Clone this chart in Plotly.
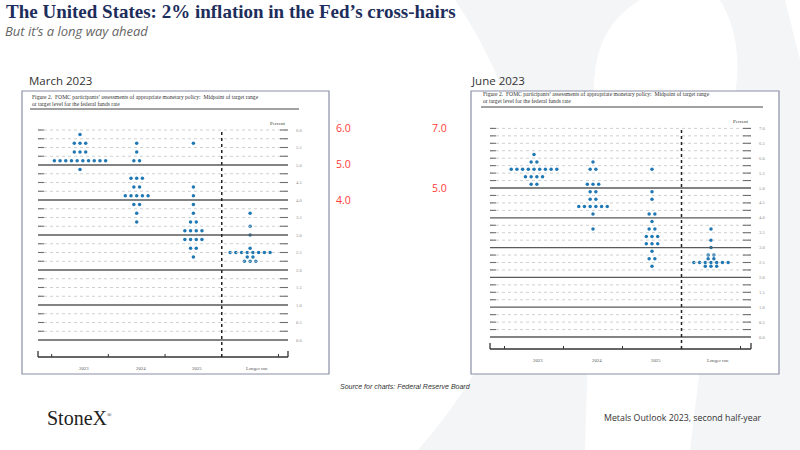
import plotly.graph_objects as go

# ---- data: FOMC dot plots (rate midpoint -> number of participants) ----
columns = ["2023", "2024", "2025", "Longer run"]

# March 2023 projections
mar_2023_levels = [5.875, 5.625, 5.375, 5.125, 4.875]
mar_2023_counts = [1, 3, 3, 10, 1]
mar_2024_levels = [5.625, 5.375, 5.125, 4.625, 4.375, 4.125, 3.875, 3.625, 3.375]
mar_2024_counts = [1, 1, 2, 3, 2, 5, 2, 1, 1]
mar_2025_levels = [5.625, 4.375, 4.125, 3.875, 3.625, 3.375, 3.125, 2.875, 2.625, 2.375]
mar_2025_counts = [1, 1, 1, 1, 1, 2, 4, 4, 2, 1]
mar_lr_levels = [3.625, 3.25, 3.0, 2.625, 2.5, 2.375, 2.25]
mar_lr_counts = [1, 1, 1, 1, 8, 2, 3]

# June 2023 projections
jun_2023_levels = [6.125, 5.875, 5.625, 5.375, 5.125]
jun_2023_counts = [1, 2, 9, 4, 2]
jun_2024_levels = [5.875, 5.625, 5.125, 4.875, 4.625, 4.375, 4.125, 3.625]
jun_2024_counts = [1, 2, 3, 2, 2, 6, 1, 1]
jun_2025_levels = [5.625, 4.875, 4.625, 4.125, 3.875, 3.625, 3.375, 3.125, 2.875, 2.625, 2.375]
jun_2025_counts = [1, 1, 1, 2, 1, 2, 3, 3, 1, 2, 1]
jun_lr_levels = [3.625, 3.25, 3.0, 2.75, 2.625, 2.5, 2.375]
jun_lr_counts = [1, 1, 1, 2, 2, 7, 3]

# red slide notes
mar_notes = ["6.0", "5.0", "4.0"]
jun_notes = ["7.0", "5.0"]

W, H = 800, 450
NAVY = "#1d2d5c"
DOT = "#1f78b4"
SERIF = "Liberation Serif"
SANS = "Open Sans"


def px(x):
    return x / W


def py(y):
    return 1 - y / H


# panel geometry in pixels (box, plot area, value->pixel mapping)
panels = [
    dict(name="", box=(22, 91, 329, 374), x0=80, xs=56.7, y0=340, ys=35.0, top=6.0,
         left=38, right=288, axis=357, cap=(30, 299, 100, 109),
         data=[(mar_2023_levels, mar_2023_counts), (mar_2024_levels, mar_2024_counts),
               (mar_2025_levels, mar_2025_counts), (mar_lr_levels, mar_lr_counts)]),
    dict(name="2", box=(471, 91, 779, 374), x0=534, xs=59.0, y0=337, ys=29.8, top=7.0,
         left=490, right=751, axis=349, cap=(481, 763, 98, 107),
         data=[(jun_2023_levels, jun_2023_counts), (jun_2024_levels, jun_2024_counts),
               (jun_2025_levels, jun_2025_counts), (jun_lr_levels, jun_lr_counts)]),
]

fig = go.Figure()
shapes = []
ann = []

# faint watermark in the background
shapes.append(dict(type="path", xref="paper", yref="paper", layer="below",
                   path=f"M {px(455)},{py(0)} Q {px(610)},{py(230)} {px(418)},{py(450)} "
                        f"L {px(800)},{py(450)} L {px(800)},{py(0)} Z",
                   fillcolor="#f4f5f7", line=dict(width=0)))
shapes.append(dict(type="path", xref="paper", yref="paper", layer="below",
                   path=f"M {px(640)},{py(0)} L {px(720)},{py(0)} "
                        f"C {px(735)},{py(25)} {px(745)},{py(60)} {px(730)},{py(120)} "
                        f"L {px(690)},{py(450)} L {px(585)},{py(450)} L {px(595)},{py(120)} "
                        f"C {px(590)},{py(60)} {px(600)},{py(25)} {px(640)},{py(0)} Z",
                   fillcolor="white", line=dict(width=0)))
shapes.append(dict(type="path", xref="paper", yref="paper", layer="below",
                   path=f"M {px(785)},{py(0)} L {px(800)},{py(0)} L {px(800)},{py(60)} Z",
                   fillcolor="white", line=dict(width=0)))

for p in panels:
    n = p["name"]
    xa, ya = "x" + n, "y" + n

    def vx(xp, p=p):
        return (xp - p["x0"]) / p["xs"]

    def vy(yp, p=p):
        return (p["y0"] - yp) / p["ys"]

    bx0, by0, bx1, by1 = p["box"]
    dom_x = [px(bx0 + 2), px(bx1 - 2)]
    dom_y = [py(by1 - 2), py(by0 + 2)]
    axis_kw = dict(visible=False, fixedrange=True)
    fig.update_layout(**{
        "xaxis" + n: dict(domain=dom_x, range=[vx(bx0 + 2), vx(bx1 - 2)], anchor=ya, **axis_kw),
        "yaxis" + n: dict(domain=dom_y, range=[vy(by1 - 2), vy(by0 + 2)], anchor=xa, **axis_kw),
    })

    # frame
    shapes.append(dict(type="rect", xref="paper", yref="paper",
                       x0=px(bx0), x1=px(bx1), y0=py(by1), y1=py(by0),
                       line=dict(color="#8a8fa6", width=1.2), fillcolor="white", layer="below"))

    # caption
    cx0, cx1, cy, cl = p["cap"]
    ann.append(dict(xref="paper", yref="paper", x=px(cx0), y=py(cy), xanchor="left", yanchor="middle",
                    showarrow=False, align="left",
                    text="Figure 2.  FOMC participants’ assessments of appropriate monetary policy:  Midpoint of target range<br>"
                         "or target level for the federal funds rate",
                    font=dict(family=SERIF, size=5.6, color="#333")))
    shapes.append(dict(type="line", xref="paper", yref="paper", x0=px(cx0), x1=px(cx1),
                       y0=py(cl), y1=py(cl), line=dict(color="#444", width=1)))

    # horizontal grid lines every 0.25
    L, R = vx(p["left"]), vx(p["right"])
    k = 0
    while k * 0.25 <= p["top"] + 1e-9:
        v = k * 0.25
        if abs(v - round(v)) < 1e-9 and v <= 5:
            shapes.append(dict(type="line", xref=xa, yref=ya, x0=L, x1=R, y0=v, y1=v,
                               line=dict(color="#5a5a5a", width=1.3)))
        else:
            shapes.append(dict(type="line", xref=xa, yref=ya, x0=L, x1=R, y0=v, y1=v,
                               line=dict(color="#c4c4c4", width=0.8, dash="dot")))
            shapes.append(dict(type="line", xref=xa, yref=ya, x0=L, x1=vx(p["left"] + 6), y0=v, y1=v,
                               line=dict(color="#6f6f6f", width=1.1)))
            shapes.append(dict(type="line", xref=xa, yref=ya, x0=vx(p["right"] - 8), x1=R, y0=v, y1=v,
                               line=dict(color="#6f6f6f", width=1.1)))
        if k % 2 == 0:
            ann.append(dict(xref="paper", yref=ya, x=px(p["right"] + 11), y=v, xanchor="center",
                            yanchor="middle", showarrow=False, text=f"{v:.1f}",
                            font=dict(family=SERIF, size=4.5, color="#8a8a8a")))
        k += 1
    ann.append(dict(xref="paper", yref=ya, x=px(p["right"]), y=p["top"], yshift=2, xanchor="right",
                    yanchor="bottom", showarrow=False, text="Percent",
                    font=dict(family=SERIF, size=5, color="#333")))

    # bottom axis with ticks
    ay = vy(p["axis"])
    shapes.append(dict(type="line", xref=xa, yref=ya, x0=L, x1=R, y0=ay, y1=ay,
                       line=dict(color="#333", width=1.3)))
    for xe in (L, R):
        shapes.append(dict(type="line", xref=xa, yref=ya, x0=xe, x1=xe, y0=ay, y1=vy(p["axis"] - 6),
                           line=dict(color="#333", width=1.3)))
    for xt in (-0.5, 0.5, 1.5, 3.5):
        shapes.append(dict(type="line", xref=xa, yref=ya, x0=xt, x1=xt, y0=ay, y1=vy(p["axis"] - 3),
                           line=dict(color="#333", width=1)))
    shapes.append(dict(type="line", xref=xa, yref=ya, x0=2.5, x1=2.5, y0=ay, y1=p["top"] + 0.02,
                       line=dict(color="#222", width=1.5, dash="dot")))
    for i, c in enumerate(columns):
        ann.append(dict(xref=xa, yref=ya, x=i + (0.12 if i == 3 else 0.07), y=vy(p["axis"] + 11),
                        yanchor="middle", showarrow=False, text=c,
                        font=dict(family=SERIF, size=4.8, color="#555")))

    # dots
    step = 5.7 / p["xs"]
    xs, ys = [], []
    for i, (levels, counts) in enumerate(p["data"]):
        for v, cnt in zip(levels, counts):
            for j in range(cnt):
                xs.append(i + (j - (cnt - 1) / 2) * step)
                ys.append(v)
    fig.add_trace(go.Scatter(x=xs, y=ys, xaxis=xa, yaxis=ya, mode="markers", hoverinfo="skip",
                             marker=dict(color=DOT, size=3.5, line=dict(width=0)), showlegend=False))

# red notes next to the charts
for t, yp in zip(mar_notes, [128, 164, 200]):
    ann.append(dict(xref="paper", yref="paper", x=px(334), y=py(yp), xanchor="left", yanchor="middle",
                    showarrow=False, text=t, font=dict(family=SANS, size=10.5, color="#ff3b3b")))
for t, yp in zip(jun_notes, [128, 188]):
    ann.append(dict(xref="paper", yref="paper", x=px(430), y=py(yp), xanchor="left", yanchor="middle",
                    showarrow=False, text=t, font=dict(family=SANS, size=10.5, color="#ff3b3b")))

# slide texts
texts = [
    (4, 12, "left", "<b>The United States: 2% inflation in the Fed’s cross-hairs</b>", SERIF, 19, NAVY),
    (3, 31, "left", "<i>But it’s a long way ahead</i>", SANS, 13, "#666"),
    (27, 80, "left", "March 2023", SANS, 11.5, "#333"),
    (469, 80, "left", "June 2023", SANS, 11.5, "#333"),
    (405, 386, "center", "<i>Source for charts: Federal Reserve Board</i>", "Liberation Sans", 7, "#333"),
    (45, 418, "left", "StoneX<sup><span style='font-size:6px'>®</span></sup>", SERIF, 20, "#222"),
    (764, 418, "right", "Metals Outlook 2023, second half-year", SANS, 8.8, "#333"),
]
for x, y, xa_, t, fam, sz, col in texts:
    ann.append(dict(xref="paper", yref="paper", x=px(x), y=py(y), xanchor=xa_, yanchor="middle",
                    showarrow=False, text=t, font=dict(family=fam, size=sz, color=col)))

fig.update_layout(width=W, height=H, margin=dict(l=0, r=0, t=0, b=0),
                  paper_bgcolor="white", plot_bgcolor="rgba(0,0,0,0)",
                  shapes=shapes, annotations=ann, showlegend=False)

fig.write_html("out.html", config={"displayModeBar": False},
               post_script="document.body.style.margin='0';")
